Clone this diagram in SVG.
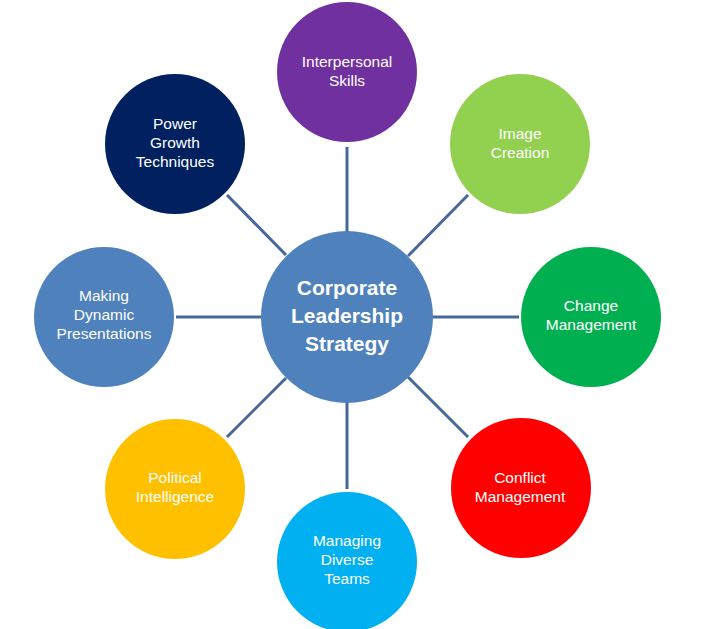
<svg xmlns="http://www.w3.org/2000/svg" width="715" height="629" viewBox="0 0 715 629">
<style>
.lbl{font-family:"Liberation Sans",Arial,sans-serif;font-size:15.5px;fill:#ffffff;text-anchor:middle}
.main{font-family:"Liberation Sans",Arial,sans-serif;font-size:21px;font-weight:bold;fill:#ffffff;text-anchor:middle}
.conn line{stroke:#46699A;stroke-width:3}
</style>
<rect width="715" height="629" fill="#ffffff"/>
<g id="connectors" class="conn">
<line x1="347" y1="147" x2="347" y2="232"/>
<line x1="347" y1="403" x2="347" y2="489"/>
<line x1="176" y1="317" x2="261" y2="317"/>
<line x1="433" y1="317" x2="519" y2="317"/>
<line x1="227" y1="195" x2="286" y2="255"/>
<line x1="408" y1="377" x2="468" y2="437"/>
<line x1="468" y1="195" x2="408" y2="256"/>
<line x1="227" y1="437" x2="286" y2="378"/>
</g>
<g id="center">
<circle cx="347" cy="317" r="86" fill="#4F81BD"/>
<text class="main" x="347" y="295">Corporate</text>
<text class="main" x="347" y="323">Leadership</text>
<text class="main" x="347" y="351">Strategy</text>
</g>
<g id="interpersonal">
<circle cx="347" cy="72" r="70" fill="#7030A0"/>
<text class="lbl" x="347" y="66.5">Interpersonal</text>
<text class="lbl" x="347" y="85.5">Skills</text>
</g>
<g id="image">
<circle cx="520" cy="144" r="70" fill="#92D050"/>
<text class="lbl" x="520" y="138.5">Image</text>
<text class="lbl" x="520" y="157.5">Creation</text>
</g>
<g id="change">
<circle cx="591" cy="317" r="70" fill="#00B050"/>
<text class="lbl" x="591" y="310.5">Change</text>
<text class="lbl" x="591" y="329.5">Management</text>
</g>
<g id="conflict">
<circle cx="521" cy="488" r="70" fill="#FF0000"/>
<text class="lbl" x="520" y="482.5">Conflict</text>
<text class="lbl" x="520" y="501.5">Management</text>
</g>
<g id="diverse">
<circle cx="347" cy="562" r="70" fill="#00B0F0"/>
<text class="lbl" x="347" y="545.5">Managing</text>
<text class="lbl" x="347" y="564.5">Diverse</text>
<text class="lbl" x="347" y="583.5">Teams</text>
</g>
<g id="political">
<circle cx="175" cy="489" r="70" fill="#FFC000"/>
<text class="lbl" x="175" y="482.5">Political</text>
<text class="lbl" x="175" y="501.5">Intelligence</text>
</g>
<g id="presentations">
<circle cx="104" cy="317" r="70" fill="#4F81BD"/>
<text class="lbl" x="104" y="300.5">Making</text>
<text class="lbl" x="104" y="319.5">Dynamic</text>
<text class="lbl" x="104" y="338.5">Presentations</text>
</g>
<g id="power">
<circle cx="175" cy="144" r="70" fill="#002060"/>
<text class="lbl" x="175" y="128.5">Power</text>
<text class="lbl" x="175" y="147.5">Growth</text>
<text class="lbl" x="175" y="166.5">Techniques</text>
</g>
</svg>
